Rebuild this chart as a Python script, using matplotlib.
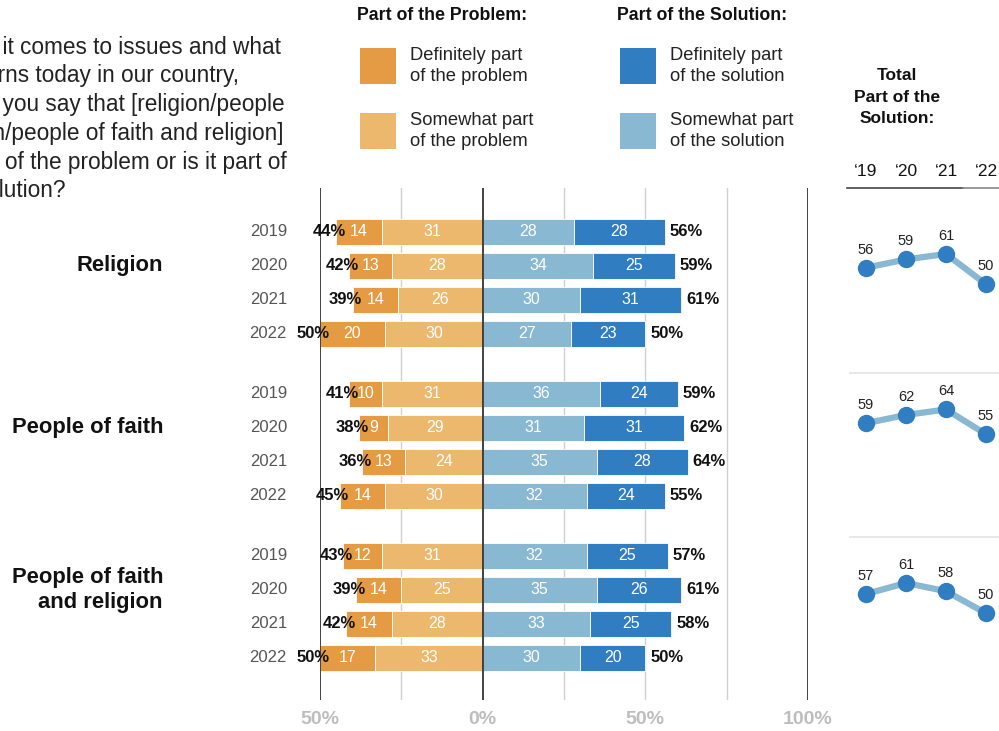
import matplotlib.pyplot as plt
import matplotlib.transforms as mtransforms
from matplotlib.patches import Rectangle
from matplotlib.lines import Line2D

plt.rcParams['font.family'] = ['Liberation Sans', 'DejaVu Sans']

groups = ['Religion', 'People of faith', 'People of faith\nand religion']
years = ['2019', '2020', '2021', '2022']
short_years = ['\u201819', '\u201820', '\u201821', '\u201822']

# part of the problem: definitely / somewhat / stated total
prob_def = [[14, 13, 14, 20], [10, 9, 13, 14], [12, 14, 14, 17]]
prob_some = [[31, 28, 26, 30], [31, 29, 24, 30], [31, 25, 28, 33]]
prob_total = [[44, 42, 39, 50], [41, 38, 36, 45], [43, 39, 42, 50]]

# part of the solution: somewhat / definitely / stated total
sol_some = [[28, 34, 30, 27], [36, 31, 35, 32], [32, 35, 33, 30]]
sol_def = [[28, 25, 31, 23], [24, 31, 28, 24], [25, 26, 25, 20]]
sol_total = [[56, 59, 61, 50], [59, 62, 64, 55], [57, 61, 58, 50]]

question = ("When it comes to issues and what\n"
            "concerns today in our country,\n"
            "would you say that [religion/people\n"
            "of faith/people of faith and religion]\n"
            "is part of the problem or is it part of\n"
            "the solution?")

ORANGE_DARK = '#e49b43'
ORANGE_LIGHT = '#ecb86d'
BLUE_LIGHT = '#89b8d2'
BLUE_DARK = '#307ec1'

W, H = 999, 731
fig = plt.figure(figsize=(W / 100, H / 100), dpi=100)


def fx(px):
    return px / W


def fy(py):
    return 1 - py / H


# main diverging bar chart, y measured in pixel rows from the top
ax = fig.add_axes([fx(320), fy(700), fx(808) - fx(320), fy(188) - fy(700)])
ax.set_xlim(-50, 100)
ax.set_ylim(700, 188)
for s in ax.spines.values():
    s.set_visible(False)
ax.set_yticks([])
ax.set_xticks([-50, 0, 50, 100])
ax.set_xticklabels(['50%', '0%', '50%', '100%'], fontweight='bold')
ax.tick_params(axis='x', length=0, pad=8, labelsize=14, labelcolor='#bdbdbd')

for xv in [-25, 25, 50, 75]:
    ax.axvline(xv, color='#d0d0d0', lw=1, zorder=0)
for xv in [-50, 0, 100]:
    ax.axvline(xv, color='#333333', lw=1.3, zorder=3)

ROW0, ROW_STEP, GROUP_STEP, BAR_H = 232, 34, 162, 26
ylab = mtransforms.blended_transform_factory(fig.transFigure, ax.transData)

for g, name in enumerate(groups):
    for r, yr in enumerate(years):
        y = ROW0 + g * GROUP_STEP + r * ROW_STEP
        ps, pd = prob_some[g][r], prob_def[g][r]
        ss, sd = sol_some[g][r], sol_def[g][r]
        kw = dict(height=BAR_H, edgecolor='white', linewidth=0.6, zorder=2)
        ax.barh(y, -ps, left=0, color=ORANGE_LIGHT, **kw)
        ax.barh(y, -pd, left=-ps, color=ORANGE_DARK, **kw)
        ax.barh(y, ss, left=0, color=BLUE_LIGHT, **kw)
        ax.barh(y, sd, left=ss, color=BLUE_DARK, **kw)

        tkw = dict(ha='center', va='center', color='white', fontsize=11.5, zorder=4)
        ax.text(-ps / 2, y, str(ps), **tkw)
        ax.text(-ps - pd / 2, y, str(pd), **tkw)
        ax.text(ss / 2, y, str(ss), **tkw)
        ax.text(ss + sd / 2, y, str(sd), **tkw)

        ax.text(-(ps + pd) + 3, y, f'{prob_total[g][r]}%', ha='right', va='center',
                fontsize=12, fontweight='bold', color='#111111', zorder=5)
        ax.text(ss + sd + 1.5, y, f'{sol_total[g][r]}%', ha='left', va='center',
                fontsize=12, fontweight='bold', color='#111111', zorder=5)

        ax.text(fx(287), y, yr, transform=ylab, ha='right', va='center',
                fontsize=12, color='#555555')

    ax.text(fx(163), ROW0 + g * GROUP_STEP + ROW_STEP, name, transform=ylab,
            ha='right', va='center', fontsize=15.8, fontweight='bold',
            color='#111111', linespacing=1.2)

# question text, running off the left edge
fig.text(fx(-63), fy(119), question, ha='left', va='center', fontsize=16.3,
         color='#222222', linespacing=1.32)

# legend
fig.text(fx(357), fy(15), 'Part of the Problem:', ha='left', va='center',
         fontsize=12.8, fontweight='bold', color='#111111')
fig.text(fx(617), fy(15), 'Part of the Solution:', ha='left', va='center',
         fontsize=12.8, fontweight='bold', color='#111111')
legend_items = [
    (360, 48, ORANGE_DARK, 'Definitely part\nof the problem'),
    (360, 113, ORANGE_LIGHT, 'Somewhat part\nof the problem'),
    (620, 48, BLUE_DARK, 'Definitely part\nof the solution'),
    (620, 113, BLUE_LIGHT, 'Somewhat part\nof the solution'),
]
for x0, y0, col, lab in legend_items:
    fig.add_artist(Rectangle((fx(x0), fy(y0 + 36)), fx(36), 36 / H,
                             transform=fig.transFigure, facecolor=col,
                             edgecolor='none'))
    fig.text(fx(x0 + 50), fy(y0 + 18), lab, ha='left', va='center',
             fontsize=13.2, color='#222222', linespacing=1.28)

# small trend panels of total "part of the solution"
fig.text(fx(897), fy(97), 'Total\nPart of the\nSolution:', ha='center',
         va='center', fontsize=12.5, fontweight='bold', color='#111111',
         linespacing=1.55)

panel_spans = [(200, 350, (26.1, 80.6)), (380, 530, (20.2, 74.7)),
               (545, 695, (20.3, 74.8))]
xs = list(range(len(short_years)))
for g, (top, bot, ylim) in enumerate(panel_spans):
    sax = fig.add_axes([fx(848), fy(bot), fx(999) - fx(848), fy(top) - fy(bot)])
    sax.set_xlim(-0.45, 3.325)
    sax.set_ylim(*ylim)
    sax.axis('off')
    sax.plot(xs, sol_total[g], color=BLUE_LIGHT, lw=4.5, solid_capstyle='round',
             zorder=1)
    sax.plot(xs, sol_total[g], 'o', color=BLUE_DARK, markersize=11.5, zorder=2)
    for xv, v in zip(xs, sol_total[g]):
        sax.annotate(str(v), (xv, v), xytext=(0, 8), textcoords='offset points',
                     ha='center', va='bottom', fontsize=10.5, color='#222222')
    if g == 0:
        hdr = mtransforms.blended_transform_factory(sax.transData, fig.transFigure)
        for xv, lab in zip(xs, short_years):
            sax.text(xv, fy(172), lab, transform=hdr, ha='center', va='center',
                     fontsize=12.5, color='#111111')

# header rule and panel separators
fig.add_artist(Line2D([fx(847), fx(963)], [fy(188), fy(188)],
                      color='#444444', lw=1.2))
fig.add_artist(Line2D([fx(963), fx(999)], [fy(188), fy(188)],
                      color='#888888', lw=1.2))
for py in [373, 537]:
    fig.add_artist(Line2D([fx(850), fx(999)], [fy(py), fy(py)],
                          color='#e3e3e3', lw=1.2))

fig.savefig('out.png', dpi=100)
